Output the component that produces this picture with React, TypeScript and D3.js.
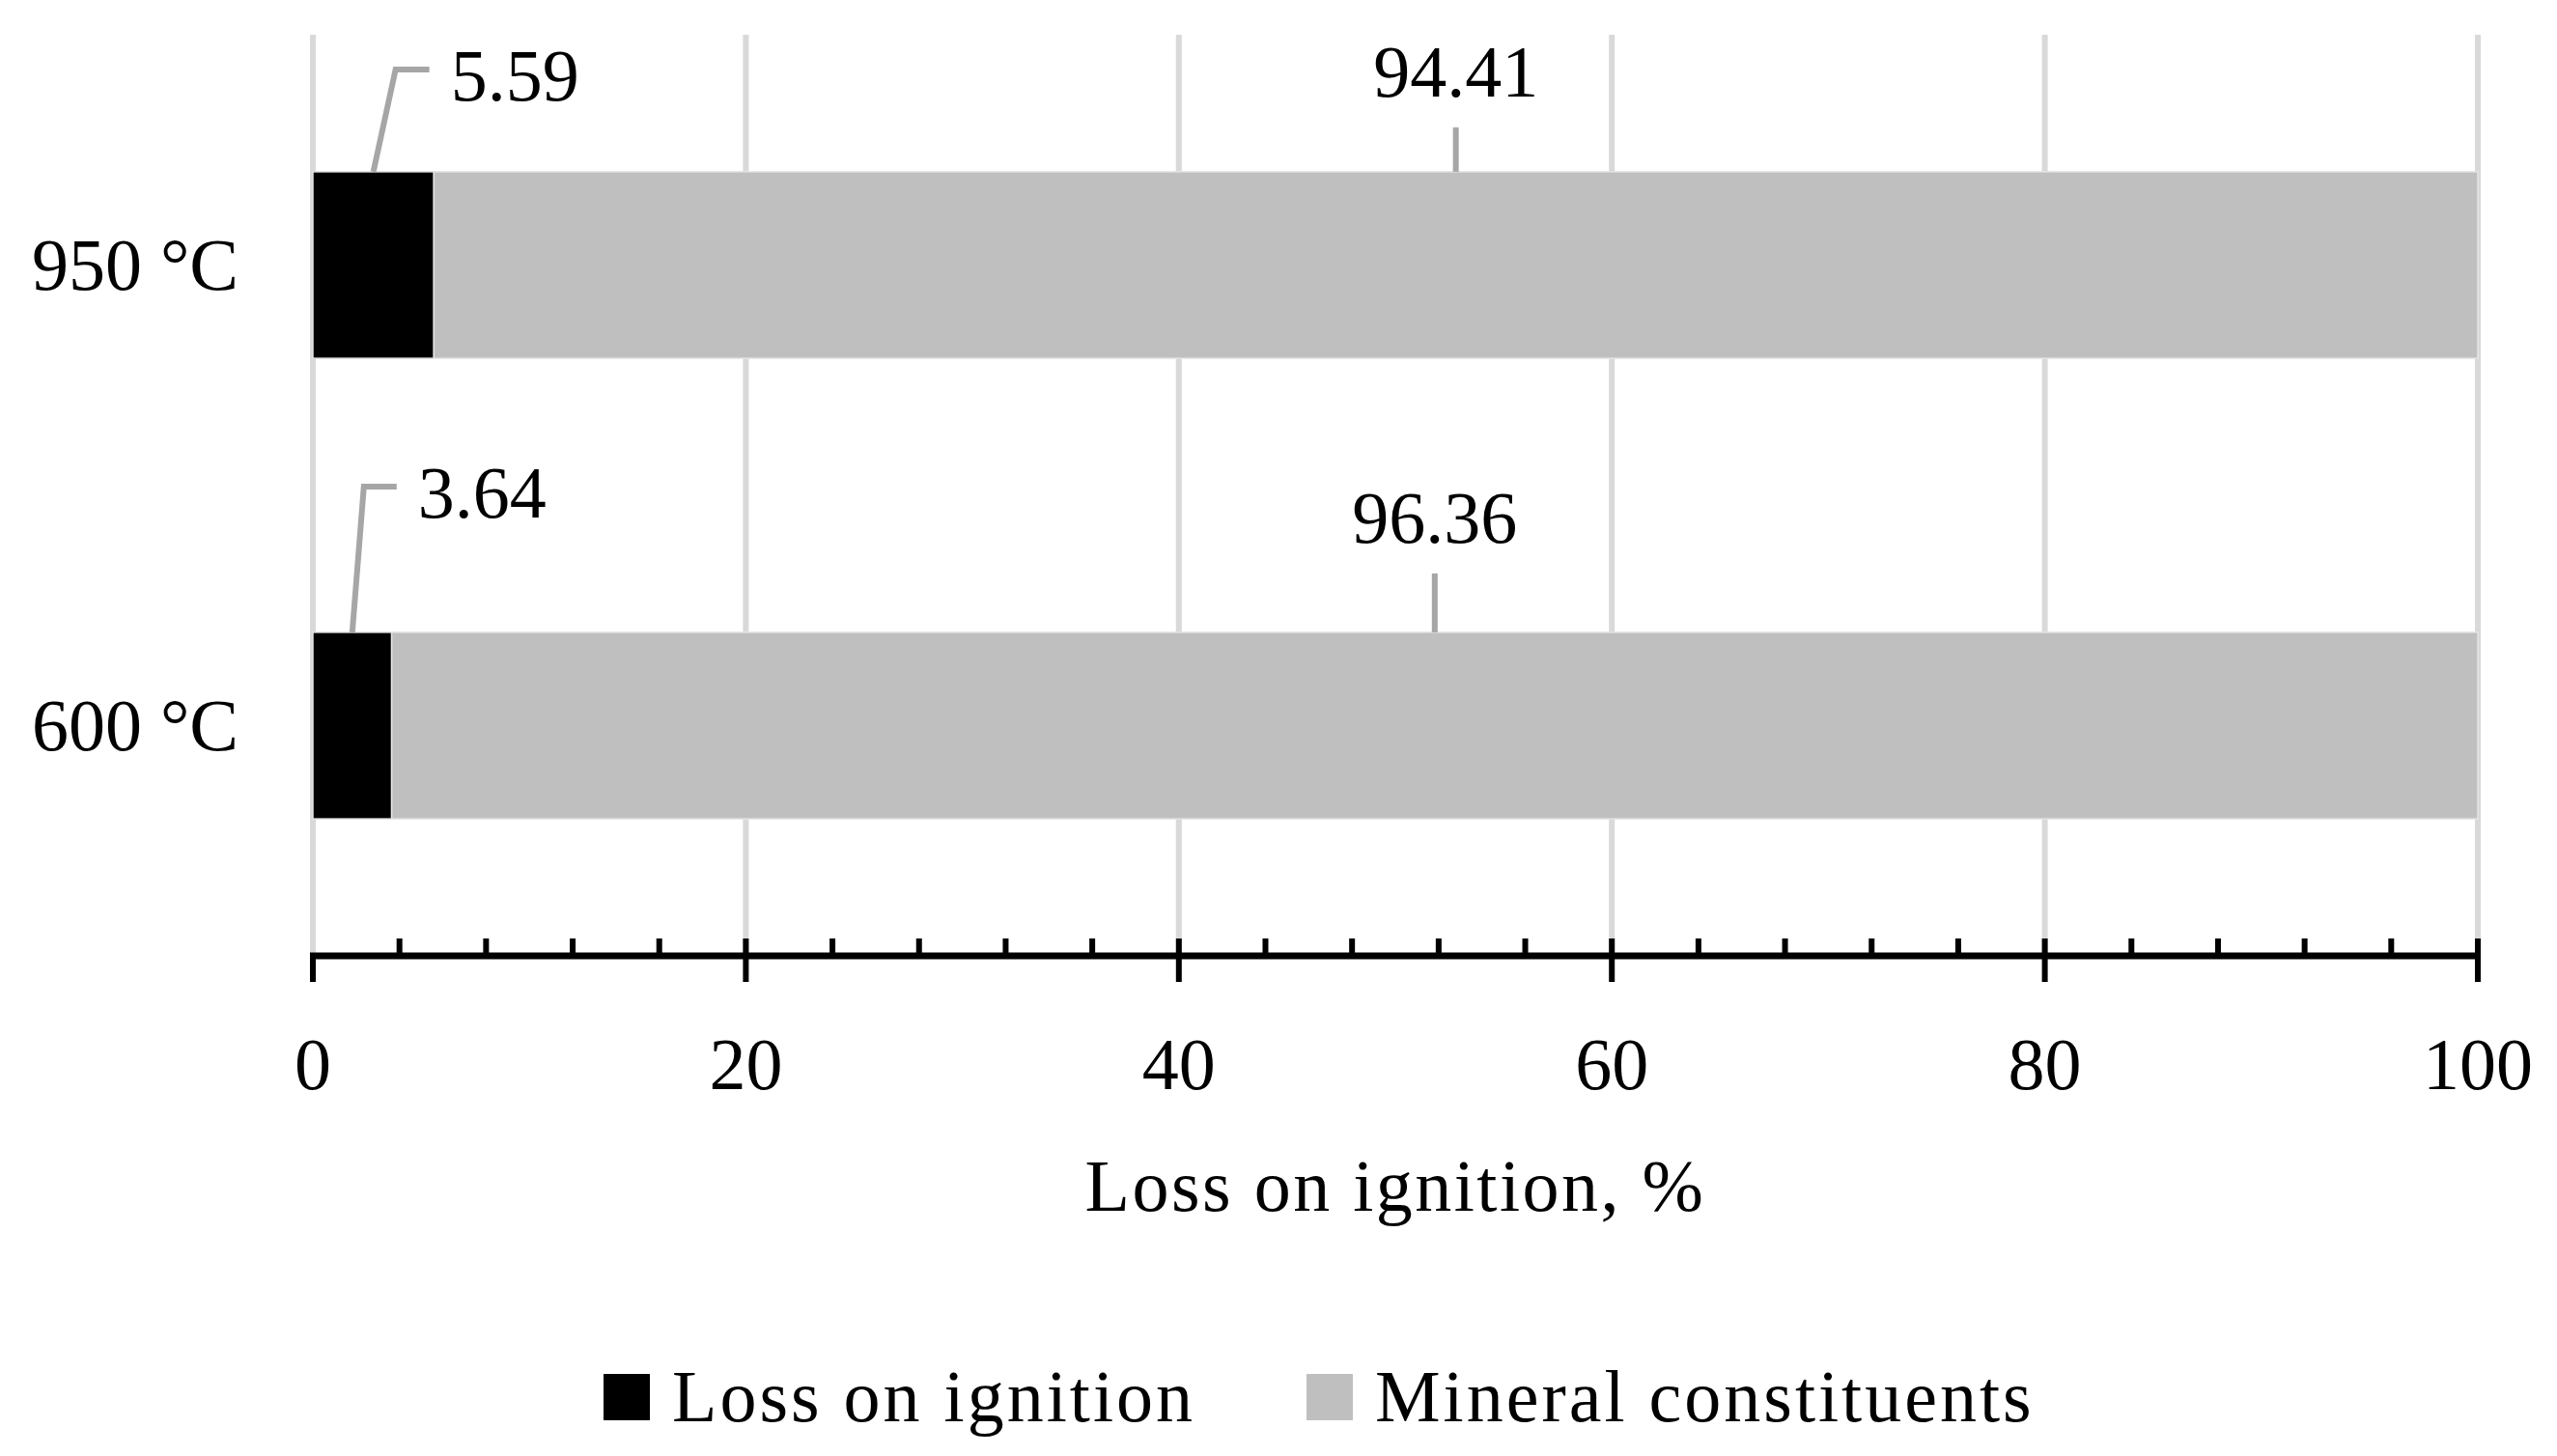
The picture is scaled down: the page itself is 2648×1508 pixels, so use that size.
import * as d3 from "d3";

const categories = ["950 °C", "600 °C"];
const seriesNames = ["Loss on ignition", "Mineral constituents"];
const lossValues = [5.59, 3.64];
const mineralValues = [94.41, 96.36];
const xTicks = [0, 20, 40, 60, 80, 100];

const COLORS = ["#000000", "#bfbfbf"];
const FONT = "'Palatino Linotype', 'Book Antiqua', Palatino, 'Liberation Serif', serif";

// hand-placed label offsets (like Excel's dragged labels), relative to the segment centre / bar top
const leaderOffsets = [
  [
    { kind: "elbow", dx: 23, dy: -106, run: 35 },
    { kind: "up", gap: 46 },
  ],
  [
    { kind: "elbow", dx: 12, dy: -151, run: 34 },
    { kind: "up", gap: 61 },
  ],
];

const W = 2648;
const H = 1508;
const margin = { top: 36, right: 82, bottom: 518, left: 324 };

export default function App() {
  const x = d3
    .scaleLinear()
    .domain([0, 100])
    .range([margin.left, W - margin.right]);

  const y = d3
    .scaleBand()
    .domain(categories)
    .range([margin.top, H - margin.bottom])
    .paddingInner(0.595)
    .paddingOuter(0.2975);

  const rows = categories.map((c, i) => ({
    cat: c,
    loss: lossValues[i],
    mineral: mineralValues[i],
  }));
  const stacked = d3.stack<any>().keys(["loss", "mineral"])(rows);

  const axisY = H - margin.bottom;
  const minorTicks = d3.range(4, 101, 4);

  return (
    <svg
      width={W}
      height={H}
      style={{ position: "absolute", left: 0, top: 0, background: "#fff" }}
      fontFamily={FONT}
    >
      {/* gridlines */}
      {xTicks.map((t) => (
        <line
          key={t}
          x1={x(t)}
          x2={x(t)}
          y1={margin.top}
          y2={axisY}
          stroke="#d9d9d9"
          strokeWidth={6}
        />
      ))}

      {/* bars */}
      {stacked.map((s, si) =>
        s.map((d, i) => (
          <rect
            key={`${si}-${i}`}
            x={x(d[0])}
            y={y(categories[i])!}
            width={x(d[1]) - x(d[0])}
            height={y.bandwidth()}
            fill={COLORS[si]}
            stroke="#e4e4e4"
            strokeWidth={1.5}
          />
        )),
      )}

      {/* data labels */}
      {stacked.map((s, si) =>
        s.map((d, i) => {
          const cx = x((d[0] + d[1]) / 2);
          const top = y(categories[i])!;
          const value = si === 0 ? lossValues[i] : mineralValues[i];
          const off: any = leaderOffsets[i][si];
          if (off.kind === "elbow") {
            const ex = cx + off.dx;
            const ey = top + off.dy;
            return (
              <g key={`l${si}-${i}`}>
                <polyline
                  points={`${cx},${top} ${ex},${ey} ${ex + off.run},${ey}`}
                  fill="none"
                  stroke="#a6a6a6"
                  strokeWidth={6}
                />
                <text
                  x={ex + off.run + 22}
                  y={ey + 32}
                  fontSize={76}
                  fill="#000"
                >
                  {value.toFixed(2)}
                </text>
              </g>
            );
          }
          return (
            <g key={`l${si}-${i}`}>
              <line
                x1={cx}
                x2={cx}
                y1={top}
                y2={top - off.gap}
                stroke="#a6a6a6"
                strokeWidth={6}
              />
              <text
                x={cx}
                y={top - off.gap - 32}
                textAnchor="middle"
                fontSize={76}
                fill="#000"
              >
                {value.toFixed(2)}
              </text>
            </g>
          );
        }),
      )}

      {/* category labels */}
      {categories.map((c) => (
        <text
          key={c}
          x={margin.left - 77}
          y={y(c)! + y.bandwidth() / 2 + 25}
          textAnchor="end"
          fontSize={76}
          fill="#000"
        >
          {c}
        </text>
      ))}

      {/* x axis */}
      <line
        x1={x(0) - 3}
        x2={x(100) + 3}
        y1={axisY}
        y2={axisY}
        stroke="#000"
        strokeWidth={7}
      />
      {minorTicks.map((t) => (
        <line
          key={`m${t}`}
          x1={x(t)}
          x2={x(t)}
          y1={axisY - 18}
          y2={axisY}
          stroke="#000"
          strokeWidth={6}
        />
      ))}
      {xTicks.map((t) => (
        <g key={`t${t}`}>
          <line
            x1={x(t)}
            x2={x(t)}
            y1={axisY}
            y2={axisY + 27}
            stroke="#000"
            strokeWidth={6}
          />
          <text
            x={x(t)}
            y={1128}
            textAnchor="middle"
            fontSize={76}
            fill="#000"
          >
            {t}
          </text>
        </g>
      ))}

      {/* axis title */}
      <text
        x={(x(0) + x(100)) / 2}
        y={1254}
        textAnchor="middle"
        fontSize={76}
        letterSpacing={2.5}
        fill="#000"
      >
        Loss on ignition, %
      </text>

      {/* legend */}
      {seriesNames.map((name, i) => {
        const lx = i === 0 ? 625 : 1353;
        return (
          <g key={name}>
            <rect x={lx} y={1423} width={48} height={48} fill={COLORS[i]} />
            <text
              x={lx + 71}
              y={1472}
              fontSize={76}
              letterSpacing={3}
              fill="#000"
            >
              {name}
            </text>
          </g>
        );
      })}
    </svg>
  );
}
